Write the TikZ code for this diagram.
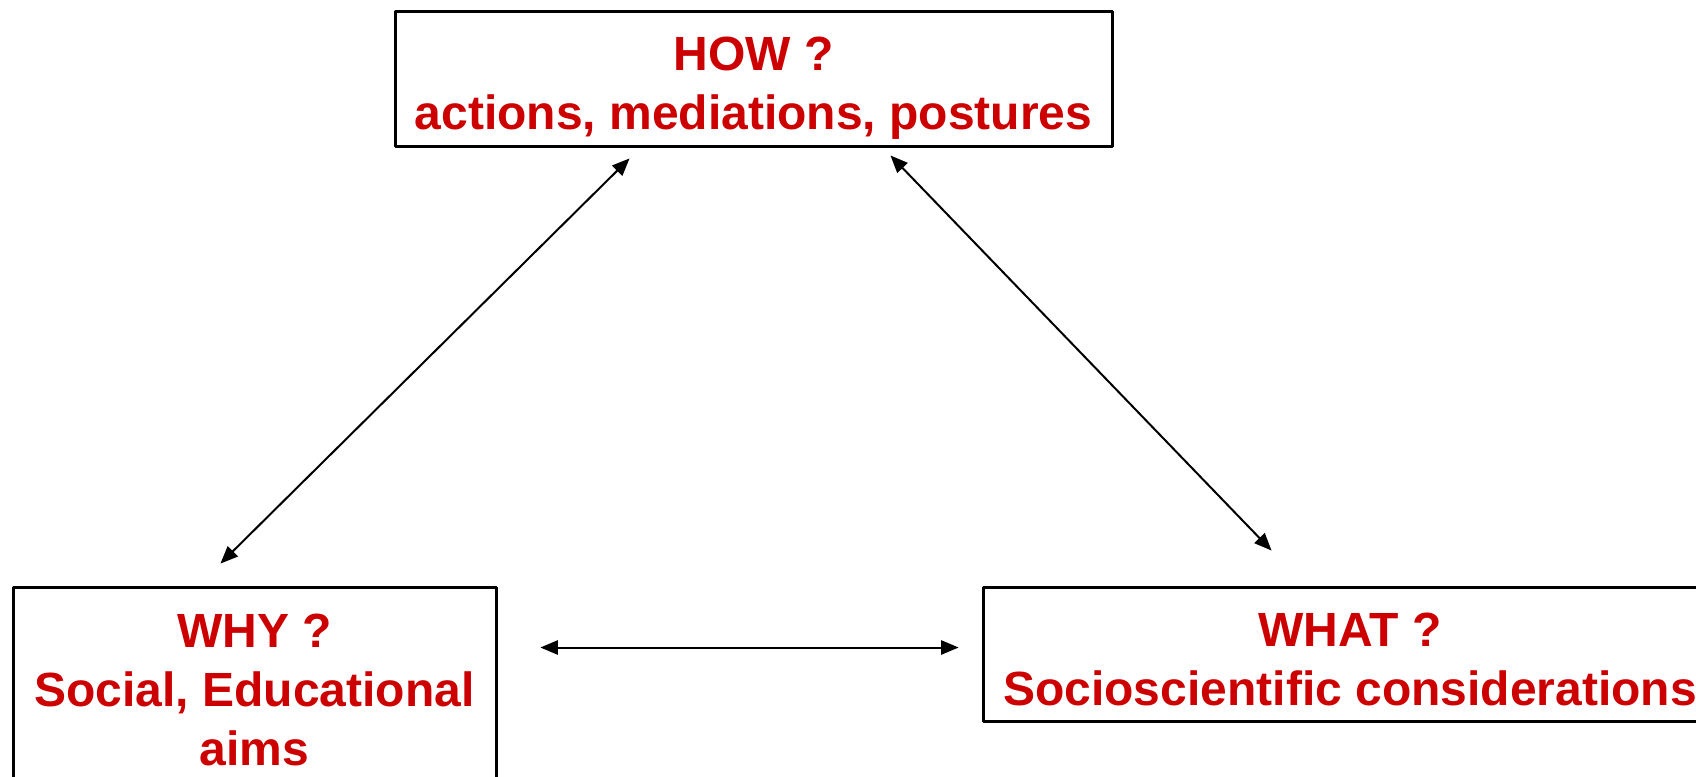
\documentclass[tikz,border=0pt]{standalone}
\usepackage{fontspec}
\setmainfont{Liberation Sans}
\usetikzlibrary{arrows}
\definecolor{qred}{RGB}{204,0,0}
\newcommand{\qlift}[1]{\rule{0pt}{#1}}

\begin{document}
\begin{tikzpicture}[line cap=round,line join=round,>=triangle 45,x=0.5pt,y=-0.5pt]
\tikzset{
  qbox/.style={draw,line width=1.5pt,align=center,text=qred,inner sep=0pt,
    font=\fontsize{24}{29.5}\selectfont\bfseries},
  link/.style={<->,line width=1pt}
}
\useasboundingbox (0,0) rectangle (1696,776);
\clip (0,0) rectangle (1696,776);
%\draw[help lines] (0,0) grid (1696,776);
\node[qbox,minimum width=358.5pt,minimum height=67.5pt] (how) at (753.5,78.5)
  {\qlift{26.5pt}HOW ?\\actions, mediations, postures};
\node[qbox,minimum width=241.5pt,minimum height=100pt] (why) at (254.5,687)
  {\qlift{19.5pt}WHY ?\\Social, Educational\\aims};
\node[qbox,minimum width=367pt,minimum height=67pt] (what) at (1350,654)
  {\qlift{22.5pt}WHAT ?\\Socioscientific considerations};
\draw[link] ([shift={(236,11)}]how.south west) -- ([shift={(209,-22)}]why.north west);
\draw[link] ([shift={(497,8)}]how.south west) -- ([shift={(290,-35)}]what.north west);
\draw[link] ([shift={(43,62)}]why.north east) -- ([shift={(-23,62)}]what.north west);
\end{tikzpicture}
\end{document}
